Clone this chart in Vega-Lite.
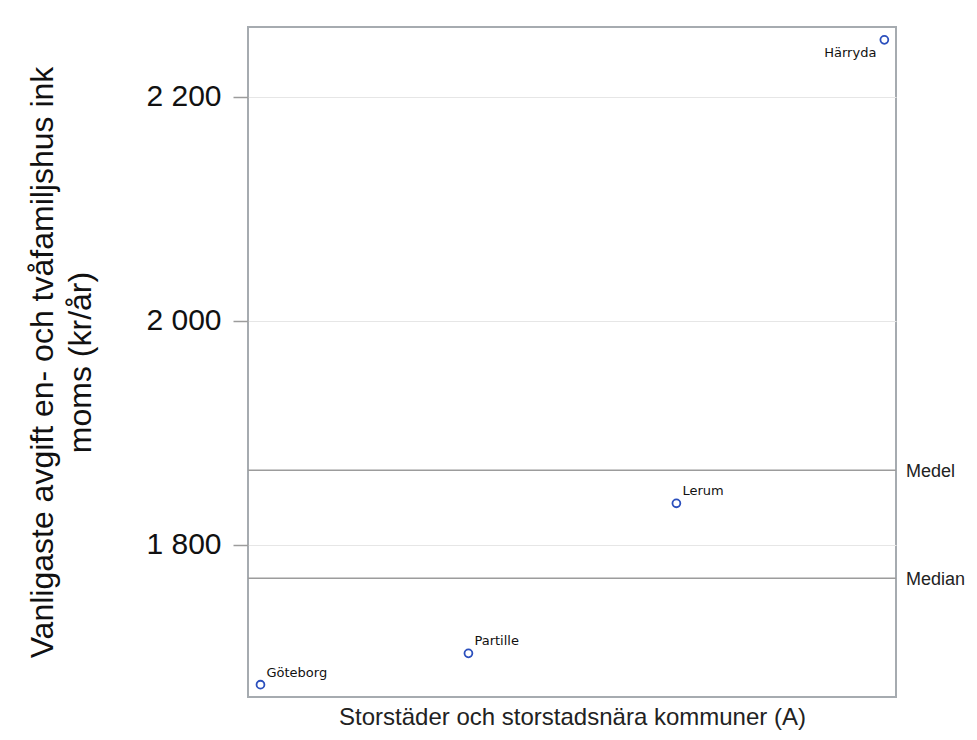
{
  "$schema": "https://vega.github.io/schema/vega-lite/v6.json",
  "width": 648,
  "height": 670,
  "autosize": {"type": "none"},
  "padding": {"left": 248, "top": 27, "right": 81, "bottom": 43},
  "background": "white",
  "config": {
    "view": {"stroke": "#a6abb0", "strokeWidth": 2},
    "font": "Liberation Sans"
  },
  "datasets": {
    "points": [
      {"kommun": "Göteborg", "rank": 1, "value": 1675},
      {"kommun": "Partille", "rank": 2, "value": 1703},
      {"kommun": "Lerum", "rank": 3, "value": 1837},
      {"kommun": "Härryda", "rank": 4, "value": 2251}
    ],
    "refs": [
      {"stat": "Medel", "value": 1866.5},
      {"stat": "Median", "value": 1770}
    ]
  },
  "layer": [
    {
      "data": {"name": "refs"},
      "mark": {"type": "rule", "color": "#9c9c9c", "strokeWidth": 1.5},
      "encoding": {
        "y": {"field": "value", "type": "quantitative"}
      }
    },
    {
      "data": {"name": "refs"},
      "mark": {"type": "text", "align": "left", "baseline": "alphabetic", "dx": 10, "dy": 7, "fontSize": 18, "color": "#222222", "font": "Liberation Sans"},
      "encoding": {
        "x": {"value": "width"},
        "y": {"field": "value", "type": "quantitative"},
        "text": {"field": "stat"}
      }
    },
    {
      "data": {"name": "points"},
      "mark": {"type": "point", "shape": "circle", "filled": false, "size": 62, "strokeWidth": 1.8, "color": "#2b4fbd", "opacity": 1},
      "encoding": {
        "x": {
          "field": "rank",
          "type": "quantitative",
          "scale": {"domain": [0.94, 4.056], "nice": false, "zero": false},
          "axis": {
            "title": "Storstäder och storstadsnära kommuner (A)",
            "labels": false,
            "ticks": false,
            "domain": false,
            "grid": false,
            "titleFontSize": 24,
            "titleFontWeight": "normal",
            "titleColor": "#222222",
            "titleFont": "Liberation Sans",
            "titlePadding": 8
          }
        },
        "y": {
          "field": "value",
          "type": "quantitative",
          "scale": {"domain": [1664, 2262.5], "nice": false, "zero": false},
          "axis": {
            "title": ["Vanligaste avgift en- och tvåfamiljshus ink", "moms (kr/år)"],
            "values": [1800, 2000, 2200],
            "labelExpr": "replace(format(datum.value, ',d'), ',', ' ')",
            "labelFontSize": 30,
            "labelFont": "Liberation Sans",
            "labelColor": "#111111",
            "labelPadding": 12,
            "tickSize": 15,
            "tickColor": "#9c9c9c",
            "tickWidth": 1.5,
            "domain": false,
            "grid": true,
            "gridColor": "#e6e6e6",
            "gridWidth": 1,
            "titleFontSize": 32,
            "titleFont": "Liberation Sans",
            "titleFontWeight": "normal",
            "titleColor": "#111111",
            "titleLineHeight": 38,
            "titlePadding": 48
          }
        }
      }
    },
    {
      "data": {"name": "points"},
      "transform": [{"filter": "datum.kommun !== 'Härryda'"}],
      "mark": {"type": "text", "align": "left", "baseline": "alphabetic", "dx": 6, "dy": -8, "fontSize": 13, "font": "DejaVu Sans", "color": "#111111"},
      "encoding": {
        "x": {"field": "rank", "type": "quantitative"},
        "y": {"field": "value", "type": "quantitative"},
        "text": {"field": "kommun"}
      }
    },
    {
      "data": {"name": "points"},
      "transform": [{"filter": "datum.kommun === 'Härryda'"}],
      "mark": {"type": "text", "align": "right", "baseline": "alphabetic", "dx": -8, "dy": 17, "fontSize": 13, "font": "DejaVu Sans", "color": "#111111"},
      "encoding": {
        "x": {"field": "rank", "type": "quantitative"},
        "y": {"field": "value", "type": "quantitative"},
        "text": {"field": "kommun"}
      }
    }
  ]
}
